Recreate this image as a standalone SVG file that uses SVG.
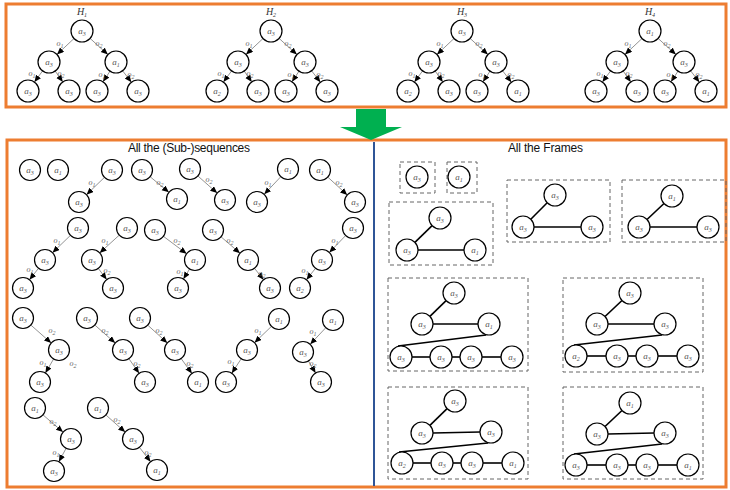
<svg xmlns="http://www.w3.org/2000/svg" width="730" height="490" viewBox="0 0 730 490">
<defs>
<marker id="ah" markerUnits="userSpaceOnUse" markerWidth="8" markerHeight="7" refX="7" refY="3" orient="auto"><path d="M0,0 L7,3 L0,6 z" fill="#000"/></marker>
<style>
.n circle{fill:#fff;stroke:#000;stroke-width:1.2}
.lb{font-family:"Liberation Serif",serif;font-style:italic;font-size:9px;fill:#555;text-anchor:middle}
.sub{font-size:6px}
.e{stroke:#777;stroke-width:0.8;fill:none;marker-end:url(#ah)}
.el{font-family:"Liberation Serif",serif;font-style:italic;font-size:8px;fill:#666;text-anchor:middle}
.fe{stroke:#000;stroke-width:1.6;fill:none}
.box{fill:none;stroke:#666;stroke-width:1;stroke-dasharray:4 3}
.frame{fill:none;stroke:#ED7D31;stroke-width:3}
.ttl{font-family:"Liberation Sans",Arial,sans-serif;font-size:12px;fill:#111}
.hl{font-family:"Liberation Serif",serif;font-style:italic;font-size:10px;fill:#333;text-anchor:middle}
</style>
</defs>
<rect width="730" height="490" fill="#fff"/>
<!-- frames -->
<rect class="frame" x="6" y="4" width="720" height="103"/>
<rect class="frame" x="7" y="140" width="719" height="347"/>
<line x1="374" y1="142" x2="374" y2="486" stroke="#2F5597" stroke-width="2"/>
<polygon id="green-arrow" points="356,109 386,109 386,127 402,127 371,140 340,127 356,127" fill="#00B050"/>
<text class="ttl" x="128" y="152" textLength="122">All the (Sub-)sequences</text>
<text class="ttl" x="508" y="152" textLength="75">All the Frames</text>

<!-- connectors -->
<g id="connectors">
 <g id="c-top">
  <g transform="translate(82,31)">
   <line class="e" x1="-8" y1="7.5" x2="-25" y2="23.5"/><line class="e" x1="8.1" y1="7.4" x2="25.9" y2="23.6"/>
   <line class="e" x1="-39.4" y1="39.9" x2="-47.6" y2="51.1"/><line class="e" x1="-26.8" y1="40" x2="-19.2" y2="51"/>
   <line class="e" x1="28" y1="40.2" x2="21" y2="50.8"/><line class="e" x1="40.6" y1="39.8" x2="49.4" y2="51.2"/>
  </g>
  <g transform="translate(271,31)">
   <line class="e" x1="-8" y1="7.5" x2="-25" y2="23.5"/><line class="e" x1="8.1" y1="7.4" x2="25.9" y2="23.6"/>
   <line class="e" x1="-39.4" y1="39.9" x2="-47.6" y2="51.1"/><line class="e" x1="-26.8" y1="40" x2="-19.2" y2="51"/>
   <line class="e" x1="28" y1="40.2" x2="21" y2="50.8"/><line class="e" x1="40.6" y1="39.8" x2="49.4" y2="51.2"/>
  </g>
  <g transform="translate(462,31)">
   <line class="e" x1="-8" y1="7.5" x2="-25" y2="23.5"/><line class="e" x1="8.1" y1="7.4" x2="25.9" y2="23.6"/>
   <line class="e" x1="-39.4" y1="39.9" x2="-47.6" y2="51.1"/><line class="e" x1="-26.8" y1="40" x2="-19.2" y2="51"/>
   <line class="e" x1="28" y1="40.2" x2="21" y2="50.8"/><line class="e" x1="40.6" y1="39.8" x2="49.4" y2="51.2"/>
  </g>
  <g transform="translate(650,31)">
   <line class="e" x1="-8" y1="7.5" x2="-25" y2="23.5"/><line class="e" x1="8.1" y1="7.4" x2="25.9" y2="23.6"/>
   <line class="e" x1="-39.4" y1="39.9" x2="-47.6" y2="51.1"/><line class="e" x1="-26.8" y1="40" x2="-19.2" y2="51"/>
   <line class="e" x1="28" y1="40.2" x2="21" y2="50.8"/><line class="e" x1="40.6" y1="39.8" x2="49.4" y2="51.2"/>
  </g>
 </g>
 <g id="c-seq">
  <line class="e" x1="104.5" y1="177.3" x2="86.5" y2="194.7"/>
  <line class="e" x1="150.1" y1="176.7" x2="168.9" y2="192.3"/>
  <line class="e" x1="197.8" y1="175.9" x2="217.2" y2="193.1"/>
  <line class="e" x1="280.8" y1="176.7" x2="264.2" y2="194.3"/>
  <line class="e" x1="327.8" y1="177.1" x2="347.2" y2="194.9"/>
  <line class="e" x1="70.5" y1="235.3" x2="52.5" y2="252.7"/><line class="e" x1="38.5" y1="268.3" x2="29.5" y2="279.7"/>
  <line class="e" x1="119.3" y1="235.1" x2="99.7" y2="252.9"/><line class="e" x1="98.3" y1="268.4" x2="106.7" y2="279.6"/>
  <line class="e" x1="163.4" y1="236.3" x2="186.6" y2="253.7"/><line class="e" x1="189.6" y1="269" x2="183.4" y2="279"/>
  <line class="e" x1="221" y1="236.8" x2="240" y2="253.2"/><line class="e" x1="254.5" y1="268.3" x2="263.5" y2="279.7"/>
  <line class="e" x1="345.7" y1="235.5" x2="329.3" y2="252.5"/><line class="e" x1="315.5" y1="268.3" x2="306.5" y2="279.7"/>
  <line class="e" x1="30.8" y1="325" x2="51.2" y2="343"/><line class="e" x1="53.6" y1="359" x2="45.4" y2="373"/>
  <line class="e" x1="94.8" y1="325" x2="115.2" y2="343"/><line class="e" x1="128.9" y1="358.7" x2="139.1" y2="373.3"/>
  <line class="e" x1="147.7" y1="325.1" x2="167.3" y2="342.9"/><line class="e" x1="181.1" y1="358.5" x2="191.9" y2="373.5"/>
  <line class="e" x1="271.5" y1="326.3" x2="254.5" y2="342.7"/><line class="e" x1="241.2" y1="358.8" x2="231.8" y2="373.2"/>
  <line class="e" x1="325.8" y1="327.7" x2="310.2" y2="344.3"/><line class="e" x1="308.4" y1="361" x2="315.6" y2="373"/>
  <line class="e" x1="43" y1="414.9" x2="63" y2="432.1"/><line class="e" x1="66.1" y1="448.3" x2="58.9" y2="461.7"/>
  <line class="e" x1="105.8" y1="414.9" x2="125.2" y2="432.1"/><line class="e" x1="139.4" y1="447.3" x2="150.6" y2="461.7"/>
 </g>
 <g id="c-frames">
  <line class="fe" x1="432.1" y1="225.7" x2="414.9" y2="242.3"/><line class="fe" x1="418" y1="250" x2="464" y2="250"/>
  <line class="fe" x1="547.2" y1="202.8" x2="530.8" y2="219.2"/><line class="fe" x1="534" y1="227" x2="581" y2="227"/>
  <line class="fe" x1="664" y1="203.5" x2="647" y2="219.5"/><line class="fe" x1="650" y1="227" x2="697" y2="227"/>
  <line class="fe" x1="446.1" y1="300.6" x2="429.9" y2="316.4"/><line class="fe" x1="433" y1="324" x2="478" y2="324"/>
  <line class="fe" x1="486" y1="335" x2="398" y2="346"/>
  <line class="fe" x1="412" y1="357" x2="430" y2="357"/><line class="fe" x1="452" y1="357" x2="460" y2="357"/><line class="fe" x1="482" y1="357" x2="501" y2="357"/>
  <line class="fe" x1="447.1" y1="408.7" x2="429.9" y2="425.3"/><line class="fe" x1="433" y1="433" x2="480" y2="432"/>
  <line class="fe" x1="488" y1="443" x2="399" y2="452"/>
  <line class="fe" x1="413" y1="463" x2="431" y2="463"/><line class="fe" x1="453" y1="463" x2="461" y2="463"/><line class="fe" x1="483" y1="463" x2="502" y2="463"/>
  <line class="fe" x1="622" y1="300.5" x2="605" y2="316.5"/><line class="fe" x1="608" y1="324" x2="654" y2="324"/>
  <line class="fe" x1="662" y1="335" x2="574" y2="345"/>
  <line class="fe" x1="587" y1="356" x2="606" y2="356"/><line class="fe" x1="628" y1="356" x2="636" y2="356"/><line class="fe" x1="658" y1="356" x2="677" y2="356"/>
  <line class="fe" x1="622" y1="410.5" x2="605" y2="426.5"/><line class="fe" x1="608" y1="434" x2="654" y2="433"/>
  <line class="fe" x1="662" y1="444" x2="574" y2="454"/>
  <line class="fe" x1="587" y1="465" x2="606" y2="465"/><line class="fe" x1="628" y1="465" x2="636" y2="465"/><line class="fe" x1="658" y1="465" x2="677" y2="465"/>
 </g>
</g>

<!-- edge labels -->
<g id="edge-labels">
 <g transform="translate(82,34)"><text class="el" x="-22" y="12">o<tspan class="sub" dy="1.5">1</tspan></text><text class="el" x="17" y="12">o<tspan class="sub" dy="1.5">2</tspan></text><text class="el" x="-50" y="42">o<tspan class="sub" dy="1.5">1</tspan></text><text class="el" x="-21" y="42">o<tspan class="sub" dy="1.5">2</tspan></text><text class="el" x="20" y="43">o<tspan class="sub" dy="1.5">1</tspan></text><text class="el" x="49" y="43">o<tspan class="sub" dy="1.5">2</tspan></text></g>
 <g transform="translate(271,34)"><text class="el" x="-22" y="12">o<tspan class="sub" dy="1.5">1</tspan></text><text class="el" x="17" y="12">o<tspan class="sub" dy="1.5">2</tspan></text><text class="el" x="-50" y="42">o<tspan class="sub" dy="1.5">1</tspan></text><text class="el" x="-21" y="42">o<tspan class="sub" dy="1.5">2</tspan></text><text class="el" x="20" y="43">o<tspan class="sub" dy="1.5">1</tspan></text><text class="el" x="49" y="43">o<tspan class="sub" dy="1.5">2</tspan></text></g>
 <g transform="translate(462,34)"><text class="el" x="-22" y="12">o<tspan class="sub" dy="1.5">1</tspan></text><text class="el" x="17" y="12">o<tspan class="sub" dy="1.5">2</tspan></text><text class="el" x="-50" y="42">o<tspan class="sub" dy="1.5">1</tspan></text><text class="el" x="-21" y="42">o<tspan class="sub" dy="1.5">2</tspan></text><text class="el" x="20" y="43">o<tspan class="sub" dy="1.5">1</tspan></text><text class="el" x="49" y="43">o<tspan class="sub" dy="1.5">2</tspan></text></g>
 <g transform="translate(650,34)"><text class="el" x="-22" y="12">o<tspan class="sub" dy="1.5">1</tspan></text><text class="el" x="17" y="12">o<tspan class="sub" dy="1.5">2</tspan></text><text class="el" x="-50" y="42">o<tspan class="sub" dy="1.5">1</tspan></text><text class="el" x="-21" y="42">o<tspan class="sub" dy="1.5">2</tspan></text><text class="el" x="20" y="43">o<tspan class="sub" dy="1.5">1</tspan></text><text class="el" x="49" y="43">o<tspan class="sub" dy="1.5">2</tspan></text></g>
 <g transform="translate(0,3)">
  <text class="el" x="92" y="182">o<tspan class="sub" dy="1.5">1</tspan></text>
  <text class="el" x="160" y="182">o<tspan class="sub" dy="1.5">2</tspan></text>
  <text class="el" x="209" y="179">o<tspan class="sub" dy="1.5">2</tspan></text>
  <text class="el" x="268" y="182">o<tspan class="sub" dy="1.5">1</tspan></text>
  <text class="el" x="339" y="182">o<tspan class="sub" dy="1.5">2</tspan></text>
  <text class="el" x="57" y="240">o<tspan class="sub" dy="1.5">1</tspan></text><text class="el" x="30" y="269">o<tspan class="sub" dy="1.5">1</tspan></text>
  <text class="el" x="105" y="240">o<tspan class="sub" dy="1.5">1</tspan></text><text class="el" x="107" y="270">o<tspan class="sub" dy="1.5">2</tspan></text>
  <text class="el" x="177" y="240">o<tspan class="sub" dy="1.5">2</tspan></text><text class="el" x="180" y="271">o<tspan class="sub" dy="1.5">1</tspan></text>
  <text class="el" x="230" y="240">o<tspan class="sub" dy="1.5">2</tspan></text><text class="el" x="262" y="273">o<tspan class="sub" dy="1.5">2</tspan></text>
  <text class="el" x="335" y="240">o<tspan class="sub" dy="1.5">1</tspan></text><text class="el" x="305" y="270">o<tspan class="sub" dy="1.5">1</tspan></text>
  <text class="el" x="52" y="330">o<tspan class="sub" dy="1.5">2</tspan></text><text class="el" x="43" y="362">o<tspan class="sub" dy="1.5">1</tspan></text><text class="el" x="73" y="363">o<tspan class="sub" dy="1.5">2</tspan></text>
  <text class="el" x="105" y="330">o<tspan class="sub" dy="1.5">2</tspan></text><text class="el" x="137" y="363">o<tspan class="sub" dy="1.5">2</tspan></text>
  <text class="el" x="159" y="330">o<tspan class="sub" dy="1.5">2</tspan></text><text class="el" x="190" y="363">o<tspan class="sub" dy="1.5">2</tspan></text>
  <text class="el" x="258" y="330">o<tspan class="sub" dy="1.5">1</tspan></text><text class="el" x="231" y="361">o<tspan class="sub" dy="1.5">1</tspan></text>
  <text class="el" x="313" y="331">o<tspan class="sub" dy="1.5">1</tspan></text><text class="el" x="313" y="363">o<tspan class="sub" dy="1.5">2</tspan></text>
  <text class="el" x="53" y="421">o<tspan class="sub" dy="1.5">2</tspan></text><text class="el" x="56" y="452">o<tspan class="sub" dy="1.5">1</tspan></text>
  <text class="el" x="117" y="419">o<tspan class="sub" dy="1.5">2</tspan></text><text class="el" x="148" y="452">o<tspan class="sub" dy="1.5">2</tspan></text>
 </g>
</g>

<!-- top trees -->
<g id="H1" class="n" transform="translate(82,31)">
 <text class="hl" x="0" y="-16">H<tspan class="sub" dy="2">1</tspan></text>
 <g id="h1-r"><circle r="11"/><text class="lb" y="3">a<tspan class="sub" dy="2">3</tspan></text></g>
 <g id="h1-a" transform="translate(-33,31)"><circle r="11"/><text class="lb" y="3">a<tspan class="sub" dy="2">3</tspan></text></g>
 <g id="h1-b" transform="translate(34,31)"><circle r="11"/><text class="lb" y="3">a<tspan class="sub" dy="2">1</tspan></text></g>
 <g id="h1-l1" transform="translate(-54,60)"><circle r="11"/><text class="lb" y="3">a<tspan class="sub" dy="2">3</tspan></text></g>
 <g id="h1-l2" transform="translate(-13,60)"><circle r="11"/><text class="lb" y="3">a<tspan class="sub" dy="2">3</tspan></text></g>
 <g id="h1-l3" transform="translate(15,60)"><circle r="11"/><text class="lb" y="3">a<tspan class="sub" dy="2">3</tspan></text></g>
 <g id="h1-l4" transform="translate(56,60)"><circle r="11"/><text class="lb" y="3">a<tspan class="sub" dy="2">3</tspan></text></g>
</g>
<g id="H2" class="n" transform="translate(271,31)">
 <text class="hl" x="0" y="-16">H<tspan class="sub" dy="2">2</tspan></text>
 <g id="h2-r"><circle r="11"/><text class="lb" y="3">a<tspan class="sub" dy="2">3</tspan></text></g>
 <g id="h2-a" transform="translate(-33,31)"><circle r="11"/><text class="lb" y="3">a<tspan class="sub" dy="2">3</tspan></text></g>
 <g id="h2-b" transform="translate(34,31)"><circle r="11"/><text class="lb" y="3">a<tspan class="sub" dy="2">3</tspan></text></g>
 <g id="h2-l1" transform="translate(-54,60)"><circle r="11"/><text class="lb" y="3">a<tspan class="sub" dy="2">2</tspan></text></g>
 <g id="h2-l2" transform="translate(-13,60)"><circle r="11"/><text class="lb" y="3">a<tspan class="sub" dy="2">3</tspan></text></g>
 <g id="h2-l3" transform="translate(15,60)"><circle r="11"/><text class="lb" y="3">a<tspan class="sub" dy="2">3</tspan></text></g>
 <g id="h2-l4" transform="translate(56,60)"><circle r="11"/><text class="lb" y="3">a<tspan class="sub" dy="2">3</tspan></text></g>
</g>
<g id="H3" class="n" transform="translate(462,31)">
 <text class="hl" x="0" y="-16">H<tspan class="sub" dy="2">3</tspan></text>
 <g id="h3-r"><circle r="11"/><text class="lb" y="3">a<tspan class="sub" dy="2">3</tspan></text></g>
 <g id="h3-a" transform="translate(-33,31)"><circle r="11"/><text class="lb" y="3">a<tspan class="sub" dy="2">3</tspan></text></g>
 <g id="h3-b" transform="translate(34,31)"><circle r="11"/><text class="lb" y="3">a<tspan class="sub" dy="2">3</tspan></text></g>
 <g id="h3-l1" transform="translate(-54,60)"><circle r="11"/><text class="lb" y="3">a<tspan class="sub" dy="2">2</tspan></text></g>
 <g id="h3-l2" transform="translate(-13,60)"><circle r="11"/><text class="lb" y="3">a<tspan class="sub" dy="2">3</tspan></text></g>
 <g id="h3-l3" transform="translate(15,60)"><circle r="11"/><text class="lb" y="3">a<tspan class="sub" dy="2">3</tspan></text></g>
 <g id="h3-l4" transform="translate(56,60)"><circle r="11"/><text class="lb" y="3">a<tspan class="sub" dy="2">1</tspan></text></g>
</g>
<g id="H4" class="n" transform="translate(650,31)">
 <text class="hl" x="0" y="-16">H<tspan class="sub" dy="2">4</tspan></text>
 <g id="h4-r"><circle r="11"/><text class="lb" y="3">a<tspan class="sub" dy="2">1</tspan></text></g>
 <g id="h4-a" transform="translate(-33,31)"><circle r="11"/><text class="lb" y="3">a<tspan class="sub" dy="2">3</tspan></text></g>
 <g id="h4-b" transform="translate(34,31)"><circle r="11"/><text class="lb" y="3">a<tspan class="sub" dy="2">3</tspan></text></g>
 <g id="h4-l1" transform="translate(-54,60)"><circle r="11"/><text class="lb" y="3">a<tspan class="sub" dy="2">3</tspan></text></g>
 <g id="h4-l2" transform="translate(-13,60)"><circle r="11"/><text class="lb" y="3">a<tspan class="sub" dy="2">3</tspan></text></g>
 <g id="h4-l3" transform="translate(15,60)"><circle r="11"/><text class="lb" y="3">a<tspan class="sub" dy="2">3</tspan></text></g>
 <g id="h4-l4" transform="translate(56,60)"><circle r="11"/><text class="lb" y="3">a<tspan class="sub" dy="2">1</tspan></text></g>
</g>

<!-- sequences -->
<g id="seq-nodes" class="n">
 <g id="s1" transform="translate(30,170)"><circle r="10.5"/><text class="lb" y="3">a<tspan class="sub" dy="2">3</tspan></text></g>
 <g id="s2" transform="translate(58,170)"><circle r="10.5"/><text class="lb" y="3">a<tspan class="sub" dy="2">1</tspan></text></g>
 <g id="s3" transform="translate(112,170)"><circle r="10.5"/><text class="lb" y="3">a<tspan class="sub" dy="2">3</tspan></text></g>
 <g id="s4" transform="translate(79,202)"><circle r="10.5"/><text class="lb" y="3">a<tspan class="sub" dy="2">3</tspan></text></g>
 <g id="s5" transform="translate(142,170)"><circle r="10.5"/><text class="lb" y="3">a<tspan class="sub" dy="2">3</tspan></text></g>
 <g id="s6" transform="translate(177,199)"><circle r="10.5"/><text class="lb" y="3">a<tspan class="sub" dy="2">1</tspan></text></g>
 <g id="s7" transform="translate(190,169)"><circle r="10.5"/><text class="lb" y="3">a<tspan class="sub" dy="2">3</tspan></text></g>
 <g id="s8" transform="translate(225,200)"><circle r="10.5"/><text class="lb" y="3">a<tspan class="sub" dy="2">3</tspan></text></g>
 <g id="s9" transform="translate(288,169)"><circle r="10.5"/><text class="lb" y="3">a<tspan class="sub" dy="2">1</tspan></text></g>
 <g id="s10" transform="translate(257,202)"><circle r="10.5"/><text class="lb" y="3">a<tspan class="sub" dy="2">3</tspan></text></g>
 <g id="s11" transform="translate(320,170)"><circle r="10.5"/><text class="lb" y="3">a<tspan class="sub" dy="2">1</tspan></text></g>
 <g id="s12" transform="translate(355,202)"><circle r="10.5"/><text class="lb" y="3">a<tspan class="sub" dy="2">3</tspan></text></g>

 <g id="s13" transform="translate(78,228)"><circle r="10.5"/><text class="lb" y="3">a<tspan class="sub" dy="2">3</tspan></text></g>
 <g id="s14" transform="translate(45,260)"><circle r="10.5"/><text class="lb" y="3">a<tspan class="sub" dy="2">3</tspan></text></g>
 <g id="s15" transform="translate(23,288)"><circle r="10.5"/><text class="lb" y="3">a<tspan class="sub" dy="2">3</tspan></text></g>
 <g id="s16" transform="translate(127,228)"><circle r="10.5"/><text class="lb" y="3">a<tspan class="sub" dy="2">3</tspan></text></g>
 <g id="s17" transform="translate(92,260)"><circle r="10.5"/><text class="lb" y="3">a<tspan class="sub" dy="2">3</tspan></text></g>
 <g id="s18" transform="translate(113,288)"><circle r="10.5"/><text class="lb" y="3">a<tspan class="sub" dy="2">3</tspan></text></g>
 <g id="s19" transform="translate(155,230)"><circle r="10.5"/><text class="lb" y="3">a<tspan class="sub" dy="2">3</tspan></text></g>
 <g id="s20" transform="translate(195,260)"><circle r="10.5"/><text class="lb" y="3">a<tspan class="sub" dy="2">1</tspan></text></g>
 <g id="s21" transform="translate(178,288)"><circle r="10.5"/><text class="lb" y="3">a<tspan class="sub" dy="2">3</tspan></text></g>
 <g id="s22" transform="translate(213,230)"><circle r="10.5"/><text class="lb" y="3">a<tspan class="sub" dy="2">3</tspan></text></g>
 <g id="s23" transform="translate(248,260)"><circle r="10.5"/><text class="lb" y="3">a<tspan class="sub" dy="2">1</tspan></text></g>
 <g id="s24" transform="translate(270,288)"><circle r="10.5"/><text class="lb" y="3">a<tspan class="sub" dy="2">3</tspan></text></g>
 <g id="s25" transform="translate(353,228)"><circle r="10.5"/><text class="lb" y="3">a<tspan class="sub" dy="2">3</tspan></text></g>
 <g id="s26" transform="translate(322,260)"><circle r="10.5"/><text class="lb" y="3">a<tspan class="sub" dy="2">3</tspan></text></g>
 <g id="s27" transform="translate(300,288)"><circle r="10.5"/><text class="lb" y="3">a<tspan class="sub" dy="2">2</tspan></text></g>

 <g id="s28" transform="translate(23,318)"><circle r="10.5"/><text class="lb" y="3">a<tspan class="sub" dy="2">3</tspan></text></g>
 <g id="s29" transform="translate(59,350)"><circle r="10.5"/><text class="lb" y="3">a<tspan class="sub" dy="2">3</tspan></text></g>
 <g id="s30" transform="translate(40,382)"><circle r="10.5"/><text class="lb" y="3">a<tspan class="sub" dy="2">3</tspan></text></g>
 <g id="s31" transform="translate(87,318)"><circle r="10.5"/><text class="lb" y="3">a<tspan class="sub" dy="2">3</tspan></text></g>
 <g id="s32" transform="translate(123,350)"><circle r="10.5"/><text class="lb" y="3">a<tspan class="sub" dy="2">3</tspan></text></g>
 <g id="s33" transform="translate(145,382)"><circle r="10.5"/><text class="lb" y="3">a<tspan class="sub" dy="2">3</tspan></text></g>
 <g id="s34" transform="translate(140,318)"><circle r="10.5"/><text class="lb" y="3">a<tspan class="sub" dy="2">3</tspan></text></g>
 <g id="s35" transform="translate(175,350)"><circle r="10.5"/><text class="lb" y="3">a<tspan class="sub" dy="2">3</tspan></text></g>
 <g id="s36" transform="translate(198,382)"><circle r="10.5"/><text class="lb" y="3">a<tspan class="sub" dy="2">1</tspan></text></g>
 <g id="s37" transform="translate(279,319)"><circle r="10.5"/><text class="lb" y="3">a<tspan class="sub" dy="2">1</tspan></text></g>
 <g id="s38" transform="translate(247,350)"><circle r="10.5"/><text class="lb" y="3">a<tspan class="sub" dy="2">3</tspan></text></g>
 <g id="s39" transform="translate(226,382)"><circle r="10.5"/><text class="lb" y="3">a<tspan class="sub" dy="2">3</tspan></text></g>
 <g id="s40" transform="translate(333,320)"><circle r="10.5"/><text class="lb" y="3">a<tspan class="sub" dy="2">1</tspan></text></g>
 <g id="s41" transform="translate(303,352)"><circle r="10.5"/><text class="lb" y="3">a<tspan class="sub" dy="2">3</tspan></text></g>
 <g id="s42" transform="translate(321,382)"><circle r="10.5"/><text class="lb" y="3">a<tspan class="sub" dy="2">3</tspan></text></g>

 <g id="s43" transform="translate(35,408)"><circle r="10.5"/><text class="lb" y="3">a<tspan class="sub" dy="2">1</tspan></text></g>
 <g id="s44" transform="translate(71,439)"><circle r="10.5"/><text class="lb" y="3">a<tspan class="sub" dy="2">3</tspan></text></g>
 <g id="s45" transform="translate(54,471)"><circle r="10.5"/><text class="lb" y="3">a<tspan class="sub" dy="2">3</tspan></text></g>
 <g id="s46" transform="translate(98,408)"><circle r="10.5"/><text class="lb" y="3">a<tspan class="sub" dy="2">1</tspan></text></g>
 <g id="s47" transform="translate(133,439)"><circle r="10.5"/><text class="lb" y="3">a<tspan class="sub" dy="2">3</tspan></text></g>
 <g id="s48" transform="translate(157,470)"><circle r="10.5"/><text class="lb" y="3">a<tspan class="sub" dy="2">1</tspan></text></g>
</g>

<!-- frames -->
<g id="frame-boxes">
 <rect class="box" x="400" y="162" width="35" height="31"/>
 <rect class="box" x="447" y="162" width="30" height="31"/>
 <rect class="box" x="389" y="202" width="104" height="63"/>
 <rect class="box" x="507" y="180" width="103" height="62"/>
 <rect class="box" x="622" y="180" width="104" height="62"/>
 <rect class="box" x="388" y="278" width="140" height="93"/>
 <rect class="box" x="388" y="387" width="140" height="92"/>
 <rect class="box" x="563" y="278" width="140" height="94"/>
 <rect class="box" x="563" y="387" width="140" height="92"/>
</g>
<g id="frame-nodes" class="n">
 <g id="f1" transform="translate(417,177)"><circle r="11"/><text class="lb" y="3">a<tspan class="sub" dy="2">3</tspan></text></g>
 <g id="f2" transform="translate(459,177)"><circle r="11"/><text class="lb" y="3">a<tspan class="sub" dy="2">1</tspan></text></g>
 <g id="f3a" transform="translate(440,218)"><circle r="11"/><text class="lb" y="3">a<tspan class="sub" dy="2">3</tspan></text></g>
 <g id="f3b" transform="translate(407,250)"><circle r="11"/><text class="lb" y="3">a<tspan class="sub" dy="2">3</tspan></text></g>
 <g id="f3c" transform="translate(475,250)"><circle r="11"/><text class="lb" y="3">a<tspan class="sub" dy="2">1</tspan></text></g>
 <g id="f4a" transform="translate(555,195)"><circle r="11"/><text class="lb" y="3">a<tspan class="sub" dy="2">3</tspan></text></g>
 <g id="f4b" transform="translate(523,227)"><circle r="11"/><text class="lb" y="3">a<tspan class="sub" dy="2">3</tspan></text></g>
 <g id="f4c" transform="translate(592,227)"><circle r="11"/><text class="lb" y="3">a<tspan class="sub" dy="2">3</tspan></text></g>
 <g id="f5a" transform="translate(672,196)"><circle r="11"/><text class="lb" y="3">a<tspan class="sub" dy="2">1</tspan></text></g>
 <g id="f5b" transform="translate(639,227)"><circle r="11"/><text class="lb" y="3">a<tspan class="sub" dy="2">3</tspan></text></g>
 <g id="f5c" transform="translate(708,227)"><circle r="11"/><text class="lb" y="3">a<tspan class="sub" dy="2">3</tspan></text></g>

 <g id="f6a" transform="translate(454,293)"><circle r="11"/><text class="lb" y="3">a<tspan class="sub" dy="2">3</tspan></text></g>
 <g id="f6b" transform="translate(422,324)"><circle r="11"/><text class="lb" y="3">a<tspan class="sub" dy="2">3</tspan></text></g>
 <g id="f6c" transform="translate(489,324)"><circle r="11"/><text class="lb" y="3">a<tspan class="sub" dy="2">1</tspan></text></g>
 <g id="f6d" transform="translate(401,357)"><circle r="11"/><text class="lb" y="3">a<tspan class="sub" dy="2">3</tspan></text></g>
 <g id="f6e" transform="translate(441,357)"><circle r="11"/><text class="lb" y="3">a<tspan class="sub" dy="2">3</tspan></text></g>
 <g id="f6f" transform="translate(471,357)"><circle r="11"/><text class="lb" y="3">a<tspan class="sub" dy="2">3</tspan></text></g>
 <g id="f6g" transform="translate(512,357)"><circle r="11"/><text class="lb" y="3">a<tspan class="sub" dy="2">3</tspan></text></g>

 <g id="f7a" transform="translate(455,401)"><circle r="11"/><text class="lb" y="3">a<tspan class="sub" dy="2">3</tspan></text></g>
 <g id="f7b" transform="translate(422,433)"><circle r="11"/><text class="lb" y="3">a<tspan class="sub" dy="2">3</tspan></text></g>
 <g id="f7c" transform="translate(491,432)"><circle r="11"/><text class="lb" y="3">a<tspan class="sub" dy="2">3</tspan></text></g>
 <g id="f7d" transform="translate(402,463)"><circle r="11"/><text class="lb" y="3">a<tspan class="sub" dy="2">2</tspan></text></g>
 <g id="f7e" transform="translate(442,463)"><circle r="11"/><text class="lb" y="3">a<tspan class="sub" dy="2">3</tspan></text></g>
 <g id="f7f" transform="translate(472,463)"><circle r="11"/><text class="lb" y="3">a<tspan class="sub" dy="2">3</tspan></text></g>
 <g id="f7g" transform="translate(513,463)"><circle r="11"/><text class="lb" y="3">a<tspan class="sub" dy="2">1</tspan></text></g>

 <g id="f8a" transform="translate(630,293)"><circle r="11"/><text class="lb" y="3">a<tspan class="sub" dy="2">3</tspan></text></g>
 <g id="f8b" transform="translate(597,324)"><circle r="11"/><text class="lb" y="3">a<tspan class="sub" dy="2">3</tspan></text></g>
 <g id="f8c" transform="translate(665,324)"><circle r="11"/><text class="lb" y="3">a<tspan class="sub" dy="2">3</tspan></text></g>
 <g id="f8d" transform="translate(576,356)"><circle r="11"/><text class="lb" y="3">a<tspan class="sub" dy="2">2</tspan></text></g>
 <g id="f8e" transform="translate(617,356)"><circle r="11"/><text class="lb" y="3">a<tspan class="sub" dy="2">3</tspan></text></g>
 <g id="f8f" transform="translate(647,356)"><circle r="11"/><text class="lb" y="3">a<tspan class="sub" dy="2">3</tspan></text></g>
 <g id="f8g" transform="translate(688,356)"><circle r="11"/><text class="lb" y="3">a<tspan class="sub" dy="2">3</tspan></text></g>

 <g id="f9a" transform="translate(630,403)"><circle r="11"/><text class="lb" y="3">a<tspan class="sub" dy="2">1</tspan></text></g>
 <g id="f9b" transform="translate(597,434)"><circle r="11"/><text class="lb" y="3">a<tspan class="sub" dy="2">3</tspan></text></g>
 <g id="f9c" transform="translate(665,433)"><circle r="11"/><text class="lb" y="3">a<tspan class="sub" dy="2">3</tspan></text></g>
 <g id="f9d" transform="translate(576,465)"><circle r="11"/><text class="lb" y="3">a<tspan class="sub" dy="2">3</tspan></text></g>
 <g id="f9e" transform="translate(617,465)"><circle r="11"/><text class="lb" y="3">a<tspan class="sub" dy="2">3</tspan></text></g>
 <g id="f9f" transform="translate(647,465)"><circle r="11"/><text class="lb" y="3">a<tspan class="sub" dy="2">3</tspan></text></g>
 <g id="f9g" transform="translate(688,465)"><circle r="11"/><text class="lb" y="3">a<tspan class="sub" dy="2">1</tspan></text></g>
</g>
</svg>
